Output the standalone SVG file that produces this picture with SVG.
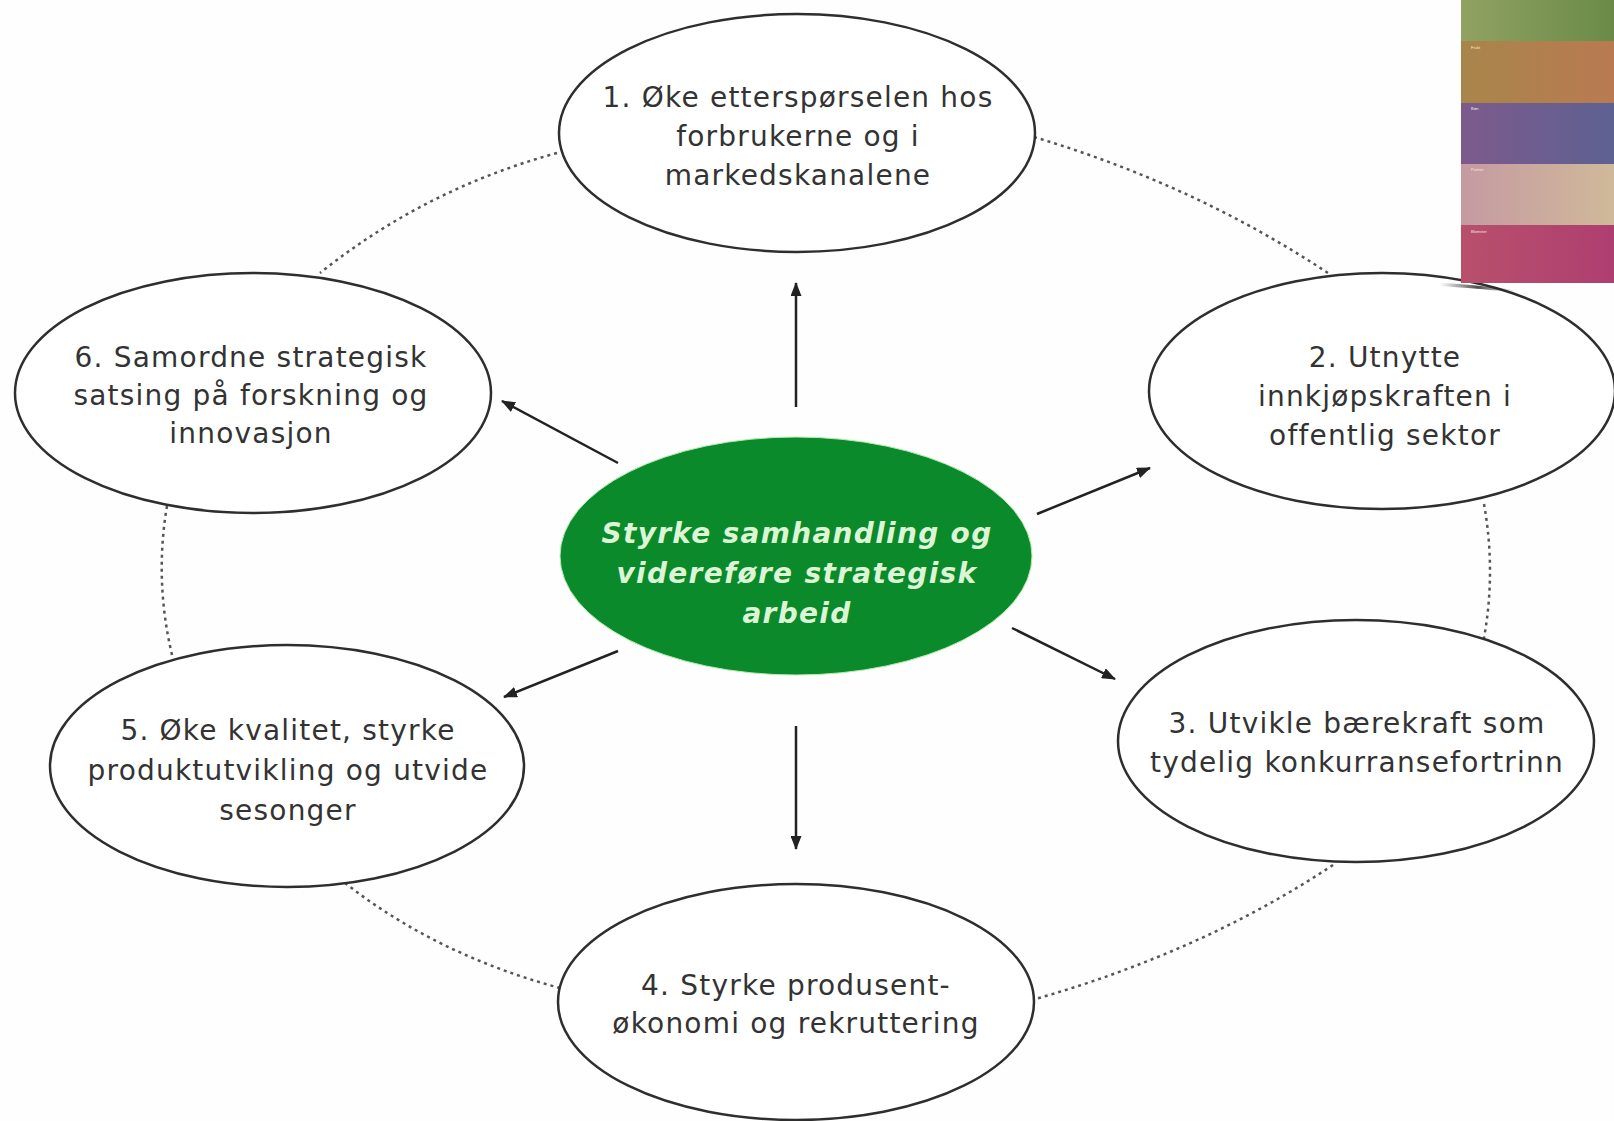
<svg xmlns="http://www.w3.org/2000/svg" width="1614" height="1121" viewBox="0 0 1614 1121">
<style>
.node{fill:#ffffff;stroke:#2e2e2e;stroke-width:2.5}
.lbl{font-family:"DejaVu Sans",Verdana,sans-serif;font-size:28px;letter-spacing:1.2px;fill:#333333;text-anchor:middle}
.ctr{font-family:"DejaVu Sans",Verdana,sans-serif;font-size:28px;letter-spacing:1.3px;font-weight:bold;font-style:italic;fill:#dcf5d4;text-anchor:middle}
.arrow{stroke:#222222;stroke-width:2.5;fill:none;marker-end:url(#ah)}
.dot{stroke:#555555;stroke-width:2.5;fill:none;stroke-dasharray:3 4}
.tiny{font-family:"Liberation Sans",Arial,sans-serif;font-size:4px;fill:#f3e6dc}
</style>
<defs>
<marker id="ah" viewBox="0 0 14 11" refX="13" refY="5.5" markerWidth="14" markerHeight="11" markerUnits="userSpaceOnUse" orient="auto">
<path d="M0,0 L14,5.5 L0,11 z" fill="#222222"/>
</marker>
<linearGradient id="g1" x1="0" x2="1" y1="0" y2="0"><stop offset="0" stop-color="#91a262"/><stop offset="1" stop-color="#6a8a48"/></linearGradient>
<linearGradient id="g2" x1="0" x2="1" y1="0" y2="0"><stop offset="0" stop-color="#a8854a"/><stop offset="1" stop-color="#b97a52"/></linearGradient>
<linearGradient id="g3" x1="0" x2="1" y1="0" y2="0"><stop offset="0" stop-color="#7d5a8c"/><stop offset="1" stop-color="#5d6192"/></linearGradient>
<linearGradient id="g4" x1="0" x2="1" y1="0" y2="0"><stop offset="0" stop-color="#c59aa2"/><stop offset="1" stop-color="#d0b99a"/></linearGradient>
<linearGradient id="g5" x1="0" x2="1" y1="0" y2="0"><stop offset="0" stop-color="#b8506c"/><stop offset="1" stop-color="#ae3e70"/></linearGradient>
<linearGradient id="sh" x1="0" x2="1" y1="0" y2="0"><stop offset="0" stop-color="#222" stop-opacity="0"/><stop offset="0.5" stop-color="#222" stop-opacity="0.8"/><stop offset="1" stop-color="#222" stop-opacity="0"/></linearGradient>
</defs>
<rect x="0" y="0" width="1614" height="1121" fill="#fefefe"/>

<g id="connectors">
<path class="dot" d="M557,153 Q425,189 320,273"/>
<path class="dot" d="M1034,137 Q1195,185 1328,273"/>
<path class="dot" d="M1484,504 Q1496,571 1484,638"/>
<path class="dot" d="M167,506 Q154,582 173,659"/>
<path class="dot" d="M345,883 Q437,955 560,988"/>
<path class="dot" d="M1333,865 Q1202,952 1032,1000"/>
<line class="arrow" x1="796" y1="407" x2="796" y2="283"/>
<line class="arrow" x1="796" y1="726" x2="796" y2="849"/>
<line class="arrow" x1="618" y1="463" x2="502" y2="401"/>
<line class="arrow" x1="1037" y1="514" x2="1150" y2="468"/>
<line class="arrow" x1="618" y1="651" x2="504" y2="697"/>
<line class="arrow" x1="1012" y1="628" x2="1115" y2="679"/>
</g>

<g id="center">
<ellipse cx="796" cy="556" rx="236" ry="119" fill="#0b8a2c" stroke="#b6efb0" stroke-width="1"/>
<text class="ctr" x="797" y="543">Styrke samhandling og</text>
<text class="ctr" x="797" y="583">videreføre strategisk</text>
<text class="ctr" x="797" y="623">arbeid</text>
</g>

<g id="node1">
<ellipse class="node" cx="797" cy="133" rx="238" ry="119"/>
<text class="lbl" x="798" y="107">1. Øke etterspørselen hos</text>
<text class="lbl" x="798" y="146">forbrukerne og i</text>
<text class="lbl" x="798" y="185">markedskanalene</text>
</g>

<g id="node2">
<ellipse class="node" cx="1382" cy="391" rx="233" ry="118"/>
<text class="lbl" x="1385" y="367">2. Utnytte</text>
<text class="lbl" x="1385" y="406">innkjøpskraften i</text>
<text class="lbl" x="1385" y="445">offentlig sektor</text>
</g>

<g id="node3">
<ellipse class="node" cx="1356" cy="741" rx="238" ry="121"/>
<text class="lbl" x="1357" y="733">3. Utvikle bærekraft som</text>
<text class="lbl" x="1357" y="772">tydelig konkurransefortrinn</text>
</g>

<g id="node4">
<ellipse class="node" cx="796" cy="1002" rx="238" ry="118"/>
<text class="lbl" x="796" y="995">4. Styrke produsent-</text>
<text class="lbl" x="796" y="1033">økonomi og rekruttering</text>
</g>

<g id="node5">
<ellipse class="node" cx="287" cy="766" rx="237" ry="121"/>
<text class="lbl" x="288" y="740">5. Øke kvalitet, styrke</text>
<text class="lbl" x="288" y="780">produktutvikling og utvide</text>
<text class="lbl" x="288" y="820">sesonger</text>
</g>

<g id="node6">
<ellipse class="node" cx="253" cy="393" rx="238" ry="120"/>
<text class="lbl" x="251" y="367">6. Samordne strategisk</text>
<text class="lbl" x="251" y="405">satsing på forskning og</text>
<text class="lbl" x="251" y="443">innovasjon</text>
</g>

<g id="strip">
<path d="M1440,283 Q1470,284 1515,290 L1515,292 Q1470,288 1440,286 z" fill="url(#sh)"/>
<rect x="1461" y="0" width="153" height="41" fill="url(#g1)"/>
<rect x="1461" y="41" width="153" height="62" fill="url(#g2)"/>
<rect x="1461" y="103" width="153" height="61" fill="url(#g3)"/>
<rect x="1461" y="164" width="153" height="61" fill="url(#g4)"/>
<rect x="1461" y="225" width="153" height="58" fill="url(#g5)"/>
<text class="tiny" x="1471" y="49">Frukt</text>
<text class="tiny" x="1471" y="110">Bær</text>
<text class="tiny" x="1471" y="171">Poteter</text>
<text class="tiny" x="1471" y="233">Blomster</text>
</g>
</svg>
